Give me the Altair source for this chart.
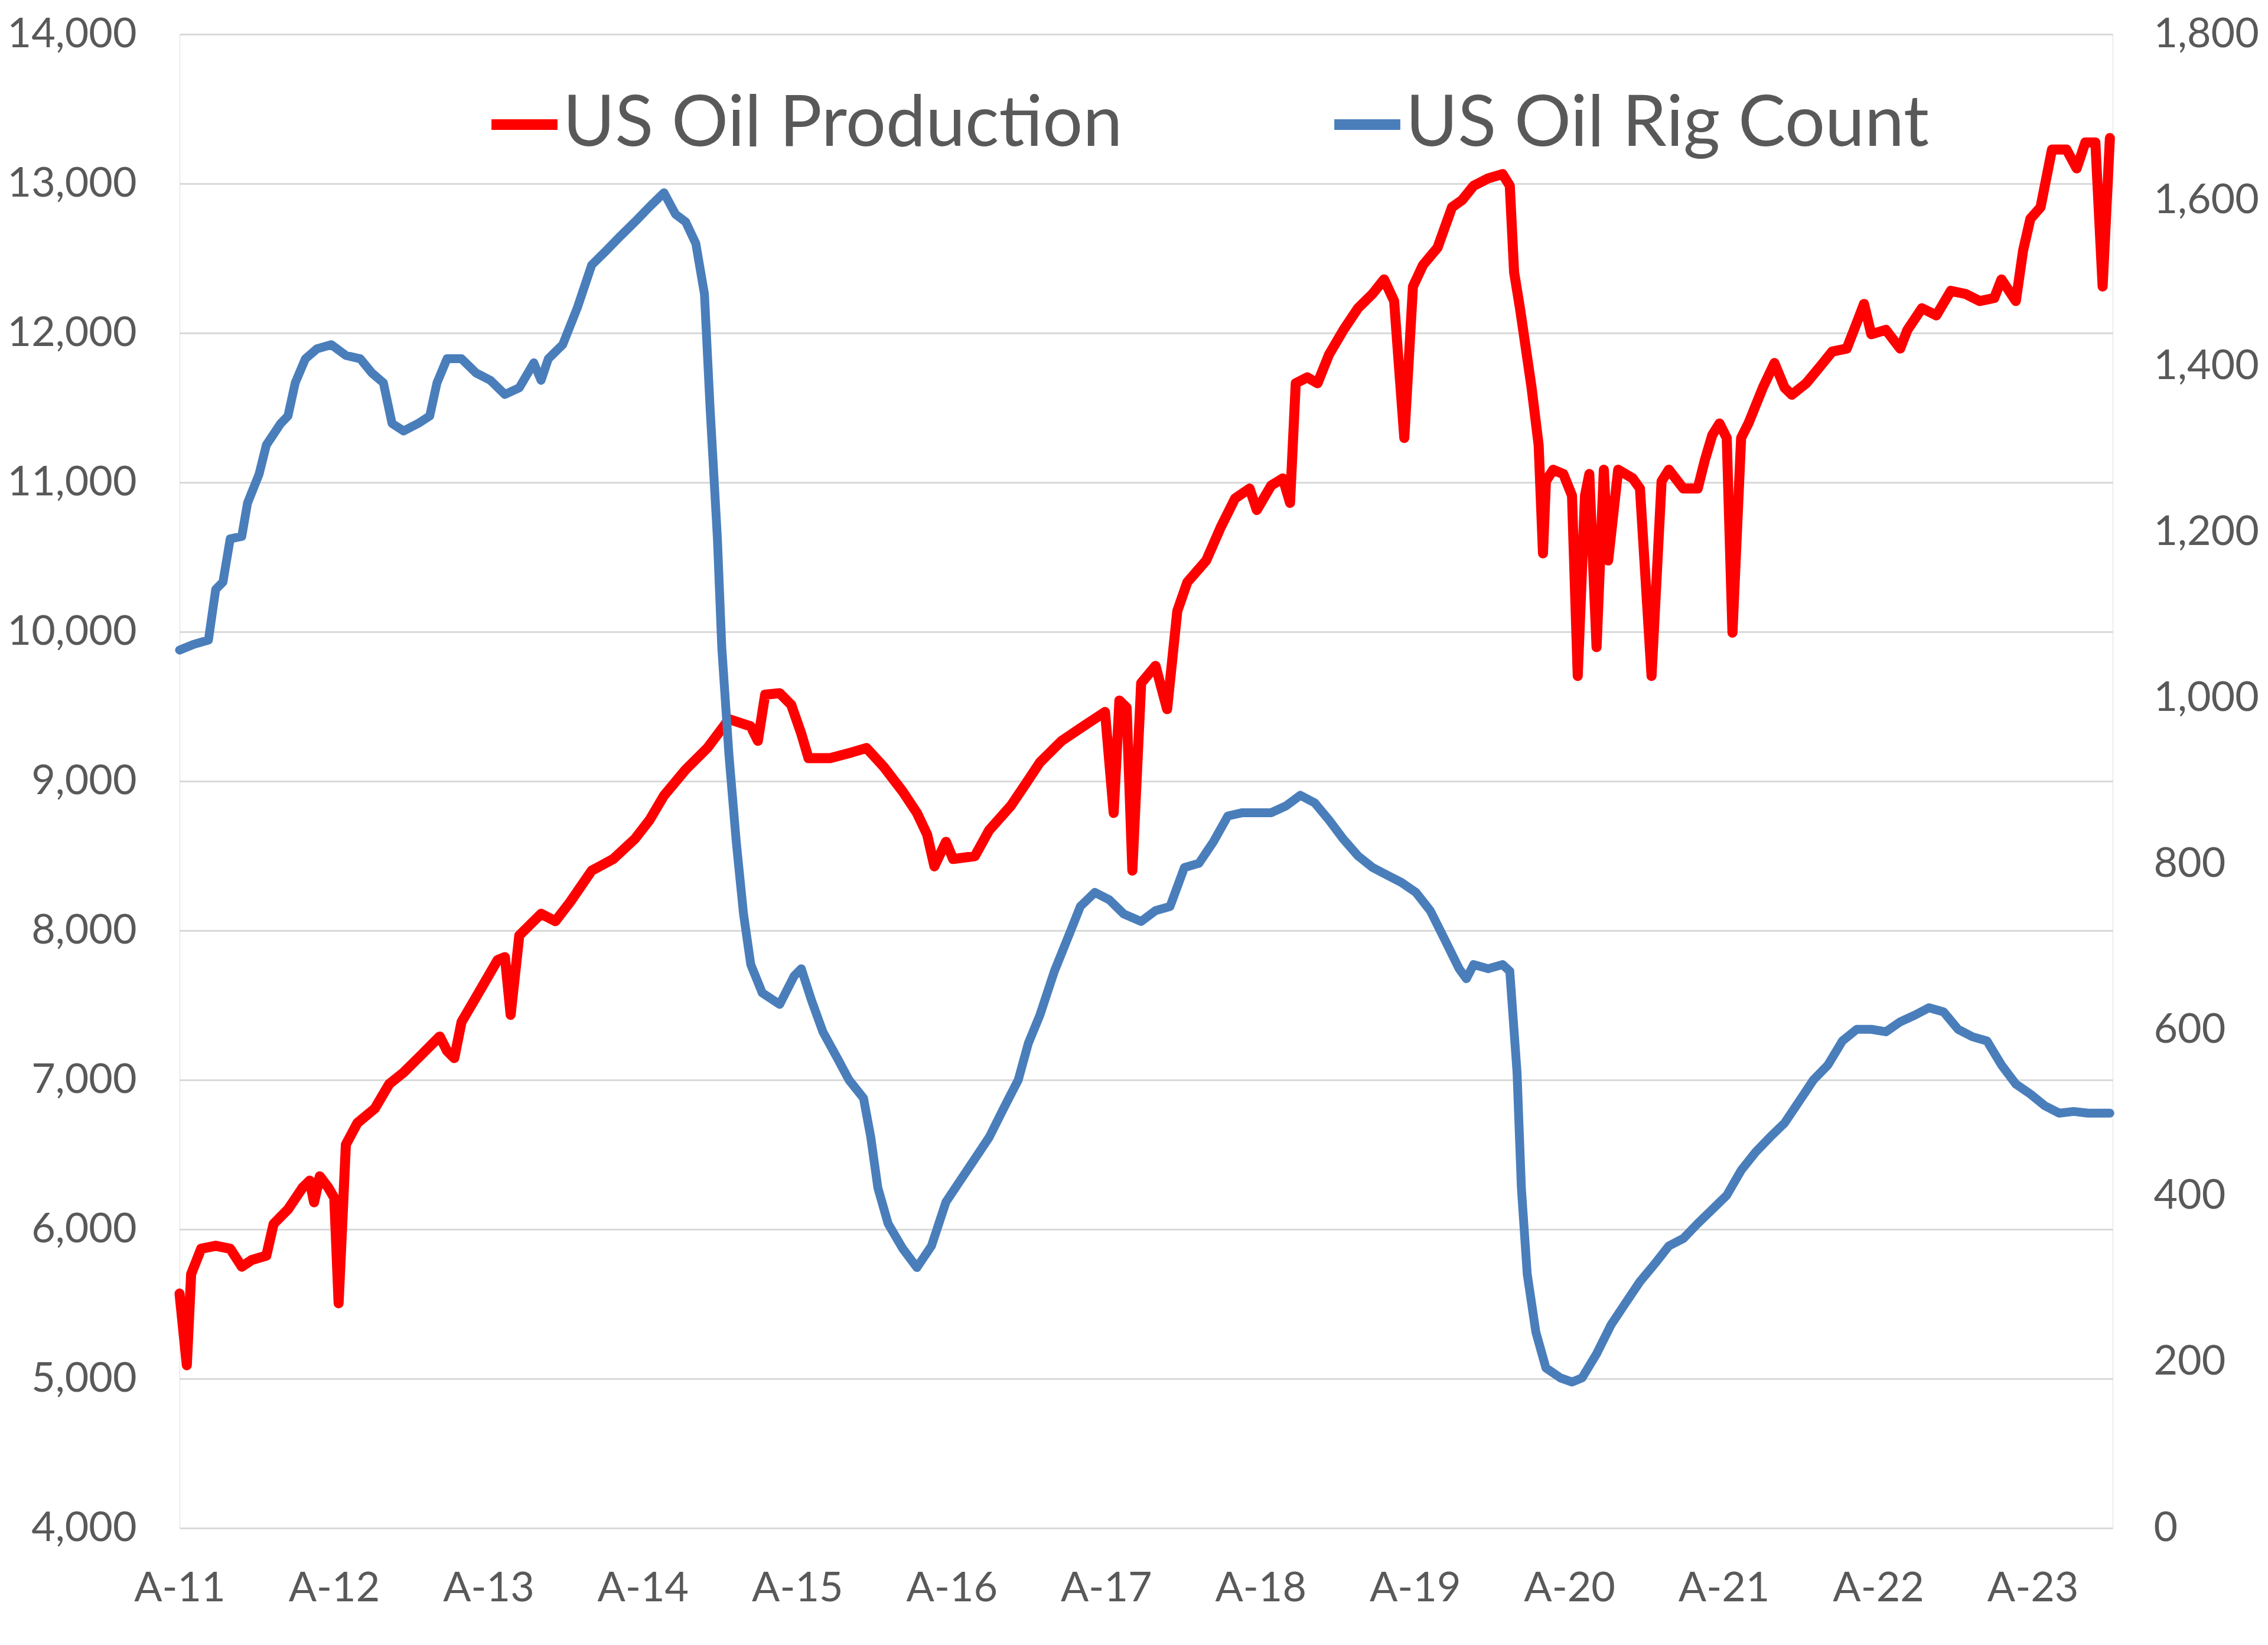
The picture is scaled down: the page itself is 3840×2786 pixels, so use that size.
import altair as alt
import pandas as pd

# ---- data ----
series_names = ["US Oil Production", "US Oil Rig Count"]
series_colors = ["#FF0000", "#4A7EBB"]

# decimal-year dates and weekly US crude production (thousand b/d)
prod_t = [2011.592, 2011.639, 2011.667, 2011.732, 2011.826, 2011.920, 2011.995, 2012.060, 2012.154, 2012.201,
          2012.294, 2012.388, 2012.435, 2012.463, 2012.500, 2012.556, 2012.594, 2012.622, 2012.669, 2012.744,
          2012.856, 2012.950, 2013.043, 2013.137, 2013.277, 2013.324, 2013.371, 2013.418, 2013.511, 2013.652,
          2013.699, 2013.736, 2013.792, 2013.933, 2014.026, 2014.120, 2014.261, 2014.401, 2014.541, 2014.635,
          2014.729, 2014.869, 2015.010, 2015.150, 2015.291, 2015.337, 2015.384, 2015.478, 2015.553, 2015.618,
          2015.665, 2015.805, 2015.946, 2016.040, 2016.152, 2016.274, 2016.367, 2016.433, 2016.480, 2016.555,
          2016.601, 2016.742, 2016.835, 2016.976, 2017.070, 2017.163, 2017.304, 2017.444, 2017.585, 2017.641,
          2017.678, 2017.725, 2017.762, 2017.819, 2017.912, 2017.987, 2018.053, 2018.118, 2018.240, 2018.334,
          2018.427, 2018.521, 2018.568, 2018.661, 2018.736, 2018.783, 2018.820, 2018.895, 2018.961, 2019.036,
          2019.129, 2019.223, 2019.317, 2019.392, 2019.457, 2019.523, 2019.579, 2019.644, 2019.738, 2019.832,
          2019.897, 2019.972, 2020.066, 2020.159, 2020.206, 2020.234, 2020.272, 2020.347, 2020.393, 2020.421,
          2020.440, 2020.487, 2020.553, 2020.609, 2020.646, 2020.693, 2020.721, 2020.768, 2020.815, 2020.843,
          2020.908, 2021.002, 2021.049, 2021.124, 2021.189, 2021.236, 2021.330, 2021.423, 2021.470, 2021.517,
          2021.564, 2021.611, 2021.648, 2021.704, 2021.751, 2021.845, 2021.920, 2021.985, 2022.032, 2022.126,
          2022.219, 2022.294, 2022.388, 2022.453, 2022.500, 2022.547, 2022.641, 2022.734, 2022.781, 2022.875,
          2022.968, 2023.062, 2023.156, 2023.249, 2023.343, 2023.390, 2023.483, 2023.530, 2023.577, 2023.643,
          2023.717, 2023.811, 2023.877, 2023.933, 2023.998, 2024.045, 2024.092]
prod_v = [5570, 5090, 5700, 5870, 5890, 5870, 5750, 5795, 5824, 6036,
          6133, 6278, 6326, 6181, 6355, 6278, 6210, 5505, 6567, 6712,
          6808, 6973, 7050, 7146, 7291, 7195, 7146, 7388, 7552, 7803,
          7822, 7436, 7967, 8112, 8063, 8189, 8401, 8479, 8614, 8739,
          8903, 9077, 9222, 9415, 9367, 9270, 9579, 9589, 9511, 9318,
          9154, 9154, 9193, 9222, 9096, 8932, 8787, 8643, 8430, 8594,
          8479, 8498, 8672, 8836, 8980, 9125, 9270, 9367, 9463, 8787,
          9540, 9492, 8401, 9656, 9772, 9482, 10139, 10332, 10477, 10699,
          10892, 10959, 10815, 10979, 11027, 10863, 11664, 11703, 11664, 11857,
          12021, 12166, 12262, 12359, 12214, 11297, 12311, 12455, 12571, 12842,
          12890, 12986, 13035, 13064, 12986, 12407, 12166, 11635, 11249, 10525,
          11008, 11085, 11056, 10911, 9704, 10911, 11056, 9897, 11085, 10477,
          11085, 11027, 10959, 9704, 11008, 11085, 10959, 10959, 11152, 11316,
          11394, 11297, 9994, 11297, 11394, 11635, 11799, 11635, 11587, 11664,
          11780, 11876, 11896, 12069, 12195, 11992, 12021, 11896, 12021, 12166,
          12118, 12282, 12262, 12214, 12234, 12359, 12214, 12552, 12764, 12842,
          13228, 13228, 13102, 13276, 13276, 12311, 13305]

# decimal-year dates and US oil rig count
rig_t = [2011.592, 2011.686, 2011.779, 2011.826, 2011.873, 2011.920, 2011.995, 2012.032, 2012.107, 2012.154,
         2012.247, 2012.294, 2012.341, 2012.407, 2012.482, 2012.575, 2012.669, 2012.762, 2012.837, 2012.912,
         2012.968, 2013.043, 2013.137, 2013.212, 2013.259, 2013.324, 2013.418, 2013.511, 2013.605, 2013.699,
         2013.792, 2013.886, 2013.933, 2013.980, 2014.073, 2014.167, 2014.261, 2014.354, 2014.448, 2014.541,
         2014.635, 2014.729, 2014.804, 2014.869, 2014.935, 2014.991, 2015.028, 2015.075, 2015.103, 2015.150,
         2015.197, 2015.244, 2015.291, 2015.365, 2015.478, 2015.571, 2015.618, 2015.684, 2015.758, 2015.852,
         2015.927, 2016.021, 2016.068, 2016.114, 2016.180, 2016.274, 2016.367, 2016.461, 2016.555, 2016.648,
         2016.742, 2016.835, 2016.929, 2017.023, 2017.088, 2017.163, 2017.257, 2017.350, 2017.425, 2017.519,
         2017.613, 2017.706, 2017.819, 2017.912, 2018.006, 2018.099, 2018.193, 2018.287, 2018.380, 2018.474,
         2018.568, 2018.661, 2018.755, 2018.849, 2018.942, 2019.036, 2019.129, 2019.223, 2019.317, 2019.410,
         2019.504, 2019.598, 2019.691, 2019.785, 2019.878, 2019.925, 2019.972, 2020.066, 2020.159, 2020.206,
         2020.253, 2020.281, 2020.319, 2020.375, 2020.440, 2020.534, 2020.609, 2020.674, 2020.768, 2020.862,
         2020.955, 2021.049, 2021.143, 2021.236, 2021.330, 2021.423, 2021.517, 2021.611, 2021.704, 2021.798,
         2021.891, 2021.985, 2022.079, 2022.172, 2022.266, 2022.360, 2022.453, 2022.547, 2022.641, 2022.734,
         2022.828, 2022.921, 2023.015, 2023.109, 2023.202, 2023.296, 2023.390, 2023.483, 2023.577, 2023.670,
         2023.764, 2023.858, 2023.951, 2024.092]
rig_v = [1058, 1065, 1070, 1131, 1140, 1192, 1195, 1235, 1270, 1305,
         1331, 1340, 1380, 1409, 1421, 1426, 1413, 1409, 1392, 1380,
         1331, 1322, 1331, 1340, 1380, 1409, 1409, 1392, 1383, 1366,
         1374, 1404, 1383, 1409, 1426, 1470, 1522, 1539, 1557, 1574,
         1592, 1609, 1583, 1574, 1548, 1487, 1348, 1192, 1062, 931,
         827, 740, 679, 645, 631, 665, 674, 636, 598, 566,
         540, 518, 471, 410, 367, 337, 314, 340, 393, 419,
         445, 471, 506, 540, 584, 618, 671, 714, 749, 766,
         757, 740, 731, 744, 749, 796, 801, 827, 858, 862,
         862, 862, 870, 883, 874, 853, 830, 810, 796, 787,
         778, 766, 744, 709, 674, 662, 679, 674, 679, 671,
         549, 410, 306, 236, 193, 181, 176, 181, 210, 245,
         271, 297, 318, 340, 349, 367, 384, 401, 431, 453,
         471, 488, 514, 540, 558, 587, 601, 601, 598, 610,
         618, 627, 622, 601, 592, 587, 558, 535, 523, 509,
         500, 502, 500, 500]

x_domain = [2011.592, 2024.11]
x_ticks = [2011.592, 2012.592, 2013.592, 2014.592, 2015.592, 2016.592, 2017.592,
           2018.592, 2019.592, 2020.592, 2021.592, 2022.592, 2023.592]
left_ticks = [4000, 5000, 6000, 7000, 8000, 9000, 10000, 11000, 12000, 13000, 14000]
right_ticks = [0, 200, 400, 600, 800, 1000, 1200, 1400, 1600, 1800]

prod_df = pd.DataFrame({"t": prod_t, "v": prod_v, "series": series_names[0]})
rig_df = pd.DataFrame({"t": rig_t, "v": rig_v, "series": series_names[1]})

FONT = "Lato"
LABEL_COLOR = "#595959"

x_enc = alt.X(
    "t:Q",
    scale=alt.Scale(domain=x_domain, nice=False, zero=False),
    axis=alt.Axis(values=x_ticks, labelExpr="'A-' + format(floor(datum.value) % 100, '02d')",
                  title=None, grid=False, domain=False, ticks=False, labelFlush=False,
                  labelFontSize=70, labelFont=FONT, labelColor=LABEL_COLOR, labelPadding=68),
)

color_enc = alt.Color(
    "series:N",
    scale=alt.Scale(domain=series_names, range=series_colors),
    legend=alt.Legend(title=None, orient="none", legendX=519, legendY=88, direction="horizontal",
                      symbolType="stroke", symbolSize=12500, symbolStrokeWidth=18,
                      labelFontSize=120, labelFont=FONT, labelColor=LABEL_COLOR,
                      labelOffset=0, columnPadding=322, labelLimit=3000),
)

prod_line = alt.Chart(prod_df).mark_line(strokeWidth=17, strokeJoin="round", strokeCap="round").encode(
    x=x_enc,
    y=alt.Y("v:Q", scale=alt.Scale(domain=[4000, 14000], nice=False, zero=False),
            axis=alt.Axis(values=left_ticks, format=",.0f", title=None, grid=True, gridColor="#D9D9D9",
                          gridWidth=3, domain=False, ticks=False, tickSize=0, labelFontSize=70,
                          labelFont=FONT, labelColor=LABEL_COLOR, labelPadding=73, labelLimit=1000)),
    color=color_enc,
)

rig_line = alt.Chart(rig_df).mark_line(strokeWidth=15, strokeJoin="round", strokeCap="round").encode(
    x=x_enc,
    y=alt.Y("v:Q", scale=alt.Scale(domain=[0, 1800], nice=False, zero=False),
            axis=alt.Axis(values=right_ticks, format=",.0f", title=None, grid=False, orient="right",
                          domain=False, ticks=False, tickSize=0, labelFontSize=70,
                          labelFont=FONT, labelColor=LABEL_COLOR, labelPadding=69, labelLimit=1000)),
    color=color_enc,
)

chart = (
    alt.layer(prod_line, rig_line)
    .resolve_scale(y="independent")
    .properties(width=3273, height=2530, padding={"left": 4, "top": 15, "right": 5, "bottom": 5})
    .configure_view(stroke=None)
    .configure_legend(symbolStrokeWidth=18)
    .configure(background="white")
)

chart.save("out.html", embed_options={"renderer": "svg", "actions": False})
